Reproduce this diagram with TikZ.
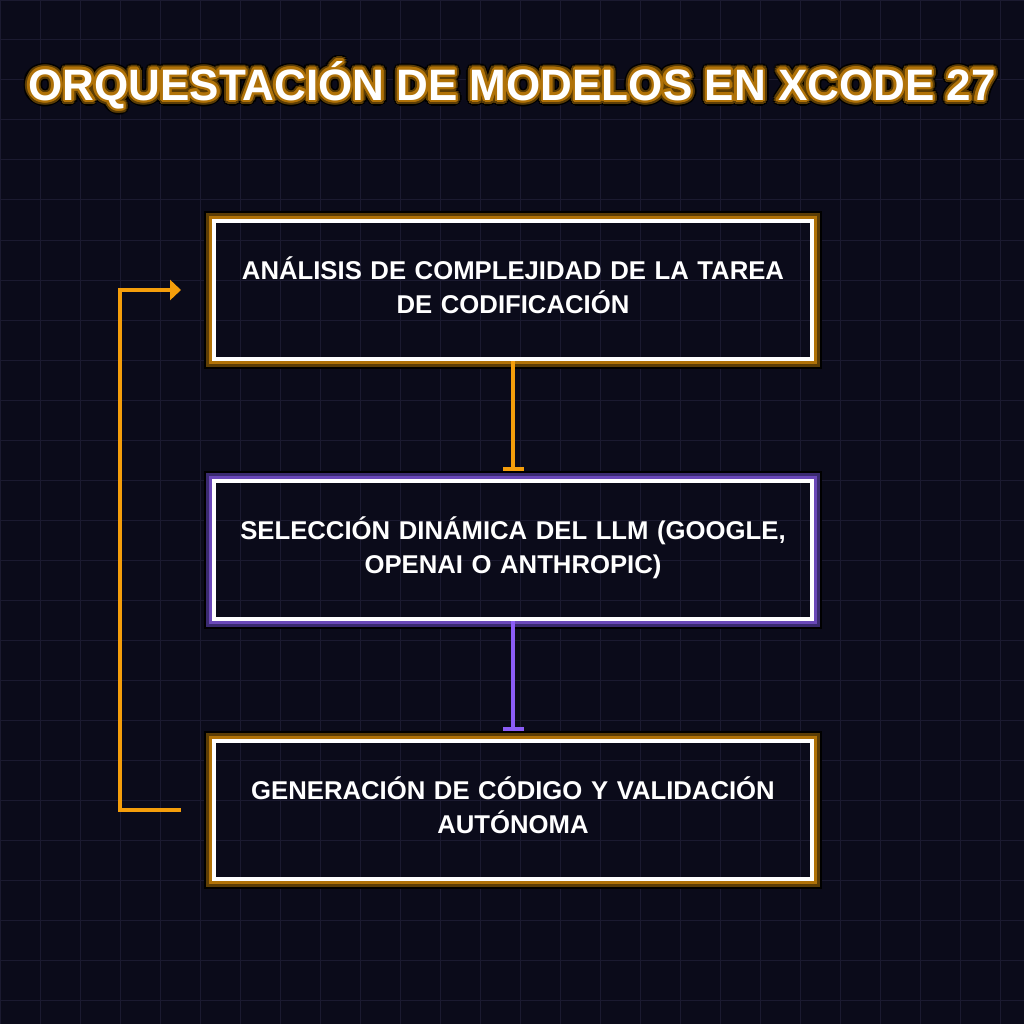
\documentclass[tikz,border=0pt]{standalone}
\usepackage{fontspec}
\setmainfont{Liberation Sans}
\usetikzlibrary{arrows.meta,calc}

\definecolor{bgnavy}{HTML}{0B0B1A}
\definecolor{gridline}{HTML}{1B1A30}
\definecolor{amber}{HTML}{F59E0B}
\definecolor{amberglow}{HTML}{B07208}
\definecolor{amberdark}{HTML}{5C3D05}
\definecolor{violet}{HTML}{8B5CF6}
\definecolor{violetglow}{HTML}{6A48B8}
\definecolor{violetdark}{HTML}{3A2A70}

\begin{document}
\begin{tikzpicture}[x=1pt, y=-1pt,
                    stepbox/.style={draw=white, line width=4pt, fill=none,
                                    minimum width=598pt, minimum height=138pt,
                                    text width=580pt, align=center, text=white,
                                    text depth=44pt,
                                    font=\fontsize{25.7}{34}\selectfont\bfseries},
                    titletext/.style={font=\fontsize{44}{50}\selectfont\bfseries},
                    link/.style={line width=4pt, -{Bar[width=21pt]}, shorten >=8pt},
                    loop/.style={line width=4pt, draw=amber,
                                 -{Triangle[length=11pt, width=20pt]}}]
	% background and grid
	\useasboundingbox (0,0) rectangle (1024,1024);
	\fill[bgnavy] (0,0) rectangle (1024,1024);
	\draw[gridline, line width=1pt] (0,0) grid[step=40pt] (1024,1024);

	% title with glow
	\foreach \r/\c in {6/black, 4.5/amberdark, 2.5/amberglow}
		\foreach \a in {0,22.5,...,337.5}
			\node[titletext, text=\c] (glow-\r-\a) at ($(512,85)+(\a:\r)$) {ORQUESTACIÓN DE MODELOS EN XCODE 27};
	\node[titletext, text=white] (title) at (512,85) {ORQUESTACIÓN DE MODELOS EN XCODE 27};

	% steps
	\node[stepbox] (s1) at (513,290) {ANÁLISIS DE COMPLEJIDAD DE LA TAREA\\DE CODIFICACIÓN};
	\node[stepbox] (s2) at (513,550) {SELECCIÓN DINÁMICA DEL LLM (GOOGLE,\\OPENAI O ANTHROPIC)};
	\node[stepbox] (s3) at (513,810) {GENERACIÓN DE CÓDIGO Y VALIDACIÓN\\AUTÓNOMA};

	% glow round the steps
	\foreach \n/\g/\d in {s1/amberglow/amberdark, s2/violetglow/violetdark, s3/amberglow/amberdark} {
		\draw[\g, line width=3pt] ([shift={(-1.5,-1.5)}]\n.north west) rectangle ([shift={(1.5,1.5)}]\n.south east);
		\draw[\d, line width=3pt] ([shift={(-4.5,-4.5)}]\n.north west) rectangle ([shift={(4.5,4.5)}]\n.south east);
		\draw[black, line width=2pt] ([shift={(-7,-7)}]\n.north west) rectangle ([shift={(7,7)}]\n.south east);
	}

	% connectors
	\draw[link, amber] (s1.south) -- (s2.north);
	\draw[link, violet] (s2.south) -- (s3.north);

	\coordinate (loopin) at ([xshift=-31pt]s1.west);
	\coordinate (loopout) at ([xshift=-31pt]s3.west);
	\draw[loop] (loopout) -- ++(-61,0) |- (loopin);

\end{tikzpicture}
\end{document}
